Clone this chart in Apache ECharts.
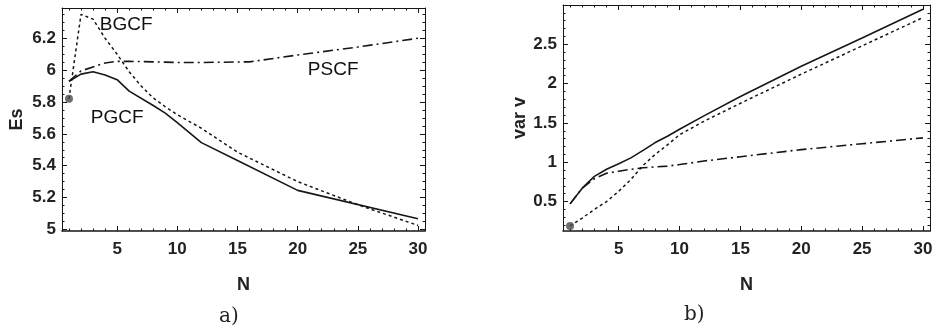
<!DOCTYPE html>
<html>
<head>
<meta charset="utf-8">
<script src="https://cdn.jsdelivr.net/npm/echarts@6/dist/echarts.min.js"></script>
<style>
html,body{margin:0;padding:0;background:#fff;}
#c{width:938px;height:330px;}
</style>
</head>
<body>
<div id="c"></div>
<script>
// ---------- data: panel a) Es vs N ----------
const pgcfN_a = [1, 2, 3, 4, 5, 6, 8, 9, 10, 12, 15, 20, 30];
const pgcfEs  = [5.93, 5.975, 5.99, 5.97, 5.94, 5.868, 5.778, 5.73, 5.67, 5.545, 5.433, 5.245, 5.067];
const bgcfN_a = [1, 2, 3, 4, 5, 6, 7, 8, 9, 10, 12, 15, 20, 25, 30];
const bgcfEs  = [5.82, 6.35, 6.32, 6.2, 6.1, 5.99, 5.9, 5.825, 5.77, 5.72, 5.635, 5.485, 5.30, 5.155, 5.025];
const pscfN_a = [1, 2, 3, 4, 5, 6, 8, 10, 12, 16, 20, 25, 30];
const pscfEs  = [5.93, 5.995, 6.02, 6.045, 6.055, 6.055, 6.052, 6.048, 6.048, 6.052, 6.095, 6.145, 6.2];

// ---------- data: panel b) var v vs N ----------
const nB    = [1, 2, 3, 4, 5, 6, 7, 8, 9, 10, 12, 15, 20, 25, 30];
const pgcfV = [0.47, 0.67, 0.82, 0.91, 0.98, 1.055, 1.15, 1.25, 1.33, 1.42, 1.59, 1.835, 2.22, 2.58, 2.945];
const bgcfV = [0.19, 0.29, 0.40, 0.50, 0.63, 0.78, 0.96, 1.10, 1.22, 1.35, 1.52, 1.75, 2.12, 2.48, 2.84];
const pscfV = [0.47, 0.67, 0.79, 0.86, 0.885, 0.91, 0.93, 0.94, 0.95, 0.97, 1.015, 1.07, 1.16, 1.235, 1.31];

// ---------- ticks ----------
const xMajor  = [5, 10, 15, 20, 25, 30];
const xMinor  = [1,2,3,4,5,6,7,8,9,10,11,12,13,14,15,16,17,18,19,20,21,22,23,24,25,26,27,28,29,30];
const yMajorA = [5, 5.2, 5.4, 5.6, 5.8, 6, 6.2];
const yMajorB = [0.5, 1, 1.5, 2, 2.5];
const curveNames = ['PGCF', 'BGCF', 'PSCF'];

const yMinorA = []; for (let k = 0; k <= 27; k++) yMinorA.push(+(5 + k * 0.05).toFixed(2));
const yMinorB = []; for (let k = 2; k <= 29; k++) yMinorB.push(+(k * 0.1).toFixed(1));

const zip = (xs, ys) => xs.map((x, i) => [x, ys[i]]);
const INK = '#161616';
const TICKFONT = { fontFamily: 'Liberation Sans', fontWeight: 'bold', fontSize: 17, color: '#222' };

const xAxes = [], yAxes = [];
function addAxes(g, xr, yr, yMajor, yMinor, xName, yName, yNameGap) {
  const baseX = { type: 'value', gridIndex: g, min: xr[0], max: xr[1], splitLine: { show: false } };
  const baseY = { type: 'value', gridIndex: g, min: yr[0], max: yr[1], splitLine: { show: false } };
  const line = { show: true, onZero: false, lineStyle: { color: INK, width: 1 } };
  const idxX = xAxes.length, idxY = yAxes.length;
  xAxes.push(Object.assign({}, baseX, {
    position: 'bottom', axisLine: { show: true, onZero: false, lineStyle: { color: INK, width: 1.5 } },
    axisTick: { show: true, inside: true, length: 5, customValues: xMajor, lineStyle: { color: INK } },
    axisLabel: Object.assign({ show: true, customValues: xMajor, margin: 10, formatter: v => String(v) }, TICKFONT),
    name: xName, nameLocation: 'middle', nameGap: 45,
    nameTextStyle: { fontFamily: 'Liberation Sans', fontWeight: 'bold', fontSize: 18, color: '#222' }
  }));
  xAxes.push(Object.assign({}, baseX, { position: 'bottom', axisLine: { show: false },
    axisTick: { show: true, inside: true, length: 2.5, customValues: xMinor, lineStyle: { color: INK } }, axisLabel: { show: false } }));
  xAxes.push(Object.assign({}, baseX, { position: 'top', axisLine: line,
    axisTick: { show: true, inside: true, length: 5, customValues: xMajor, lineStyle: { color: INK } }, axisLabel: { show: false } }));
  xAxes.push(Object.assign({}, baseX, { position: 'top', axisLine: { show: false },
    axisTick: { show: true, inside: true, length: 2.5, customValues: xMinor, lineStyle: { color: INK } }, axisLabel: { show: false } }));
  yAxes.push(Object.assign({}, baseY, {
    position: 'left', axisLine: line,
    axisTick: { show: true, inside: true, length: 5, customValues: yMajor, lineStyle: { color: INK } },
    axisLabel: Object.assign({ show: true, customValues: yMajor, margin: 6, formatter: v => String(+v.toFixed(2)) }, TICKFONT),
    name: yName, nameLocation: 'middle', nameGap: yNameGap, nameRotate: 90,
    nameTextStyle: { fontFamily: 'Liberation Sans', fontWeight: 'bold', fontSize: 18, color: '#222' }
  }));
  yAxes.push(Object.assign({}, baseY, { position: 'left', axisLine: { show: false },
    axisTick: { show: true, inside: true, length: 2.5, customValues: yMinor, lineStyle: { color: INK } }, axisLabel: { show: false } }));
  yAxes.push(Object.assign({}, baseY, { position: 'right', axisLine: line,
    axisTick: { show: true, inside: true, length: 5, customValues: yMajor, lineStyle: { color: INK } }, axisLabel: { show: false } }));
  yAxes.push(Object.assign({}, baseY, { position: 'right', axisLine: { show: false },
    axisTick: { show: true, inside: true, length: 2.5, customValues: yMinor, lineStyle: { color: INK } }, axisLabel: { show: false } }));
  return { x: idxX, y: idxY };
}

const A = addAxes(0, [0.42, 30.58], [4.99, 6.39], yMajorA, yMinorA, 'N', 'Es', 36);
const B = addAxes(1, [0.42, 30.58], [0.125, 3.0], yMajorB, yMinorB, 'N', 'var v', 34);

const SOLID = { color: INK, width: 1.6, type: 'solid' };
const DOTTED = { color: INK, width: 1.5, type: [3, 3] };
const DASHDOT = { color: INK, width: 1.6, type: [10, 4, 2, 4] };

function lineSeries(ax, data, style, extra) {
  return Object.assign({ type: 'line', xAxisIndex: ax.x, yAxisIndex: ax.y, data: data, showSymbol: false,
    symbol: 'none', smooth: false, lineStyle: style, silent: true, animation: false, z: 3 }, extra || {});
}
function label(coord, text) {
  return { coord: coord, value: text, symbol: 'circle', symbolSize: 1, itemStyle: { color: 'rgba(0,0,0,0)' },
    label: { show: true, position: 'inside', formatter: text, color: '#111', fontFamily: 'Liberation Sans', fontSize: 19 } };
}

const series = [
  lineSeries(A, zip(pgcfN_a, pgcfEs), SOLID, { markPoint: { silent: true, animation: false, data: [label([5.0, 5.70], curveNames[0])] } }),
  lineSeries(A, zip(bgcfN_a, bgcfEs), DOTTED, { markPoint: { silent: true, animation: false, data: [label([5.75, 6.285], curveNames[1])] } }),
  lineSeries(A, zip(pscfN_a, pscfEs), DASHDOT, { markPoint: { silent: true, animation: false, data: [label([22.95, 6.005], curveNames[2])] } }),
  { type: 'scatter', xAxisIndex: A.x, yAxisIndex: A.y, data: [[bgcfN_a[0], bgcfEs[0]]], symbolSize: 8,
    itemStyle: { color: '#4a4a4a' }, silent: true, animation: false, z: 5 },
  lineSeries(B, zip(nB, pgcfV), SOLID),
  lineSeries(B, zip(nB, bgcfV), DOTTED),
  lineSeries(B, zip(nB, pscfV), DASHDOT),
  { type: 'scatter', xAxisIndex: B.x, yAxisIndex: B.y, data: [[nB[0], bgcfV[0]]], symbolSize: 8,
    itemStyle: { color: '#4a4a4a' }, silent: true, animation: false, z: 5 }
];

const chart = echarts.init(document.getElementById('c'), null, { renderer: 'canvas' });
chart.setOption({
  backgroundColor: '#fff',
  animation: false,
  grid: [
    { left: 62, top: 8, width: 363, height: 223 },
    { left: 563, top: 5, width: 367, height: 226 }
  ],
  xAxis: xAxes,
  yAxis: yAxes,
  series: series,
  graphic: [
    { type: 'text', left: 219, top: 307, style: { text: 'a)', font: '20px "DejaVu Serif"', fill: '#222' } },
    { type: 'text', left: 684, top: 305, style: { text: 'b)', font: '20px "DejaVu Serif"', fill: '#222' } }
  ]
});
</script>
</body>
</html>
